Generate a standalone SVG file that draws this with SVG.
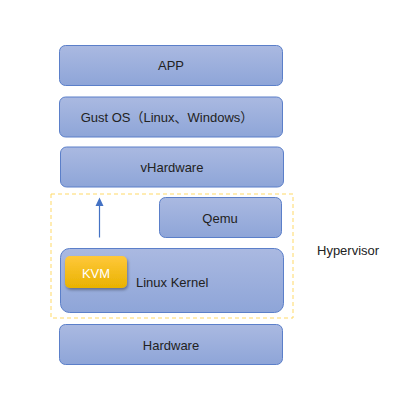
<svg xmlns="http://www.w3.org/2000/svg" width="400" height="400" viewBox="0 0 400 400">
<style>
.box{stroke:#5b7fc9;stroke-width:1;fill:url(#blue)}
.t{font-family:"Liberation Sans","Noto Sans CJK SC",sans-serif;font-size:13px;fill:#222;text-anchor:middle;dominant-baseline:central}
.tl{text-anchor:start}
.kvm{fill:#fff}
</style>
<defs>
<linearGradient id="blue" x1="0" y1="0" x2="0" y2="1">
<stop offset="0" stop-color="#aab9e1"/>
<stop offset="1" stop-color="#8ea5d8"/>
</linearGradient>
<linearGradient id="gold" x1="0" y1="0" x2="0" y2="1">
<stop offset="0" stop-color="#ffc83a"/>
<stop offset="1" stop-color="#e9b200"/>
</linearGradient>
<filter id="sh" x="-20%" y="-20%" width="150%" height="160%">
<feDropShadow dx="1" dy="2" stdDeviation="1.5" flood-color="#000" flood-opacity="0.35"/>
</filter>
</defs>
<g id="hypervisor">
<rect x="51" y="194" width="242" height="124" fill="none" stroke="#ffd966" stroke-width="1" stroke-dasharray="4,3"/>
<text class="t tl" x="317" y="250">Hypervisor</text>
</g>
<g id="app">
<rect class="box" x="59.5" y="45.5" width="223" height="40" rx="6"/>
<text class="t" x="171" y="65.5">APP</text>
</g>
<g id="guestos">
<rect class="box" x="59.5" y="97" width="223" height="40" rx="6"/>
<text class="t" x="167" y="117">Gust OS（Linux、Windows）</text>
</g>
<g id="vhardware">
<rect class="box" x="60.5" y="147" width="223" height="40" rx="6"/>
<text class="t" x="172" y="167">vHardware</text>
</g>
<g id="qemu">
<rect class="box" x="159.5" y="197.5" width="122" height="40" rx="6"/>
<text class="t" x="220" y="218">Qemu</text>
</g>
<g id="kernel">
<rect class="box" x="60.5" y="248.5" width="223" height="64" rx="9"/>
<text class="t tl" x="136" y="282">Linux Kernel</text>
</g>
<g id="kvm">
<rect x="65" y="256" width="62" height="32" rx="5" fill="url(#gold)" filter="url(#sh)"/>
<text class="t kvm" x="96" y="273">KVM</text>
</g>
<g id="hardware">
<rect class="box" x="59.5" y="324.5" width="223" height="40" rx="6"/>
<text class="t" x="171" y="345">Hardware</text>
</g>
<g id="connectors">
<line x1="99.5" y1="237.5" x2="99.5" y2="205" stroke="#4472c4" stroke-width="1.2"/>
<path d="M95.5,206 L99.5,197.5 L103.5,206 Z" fill="#4472c4"/>
</g>
</svg>
